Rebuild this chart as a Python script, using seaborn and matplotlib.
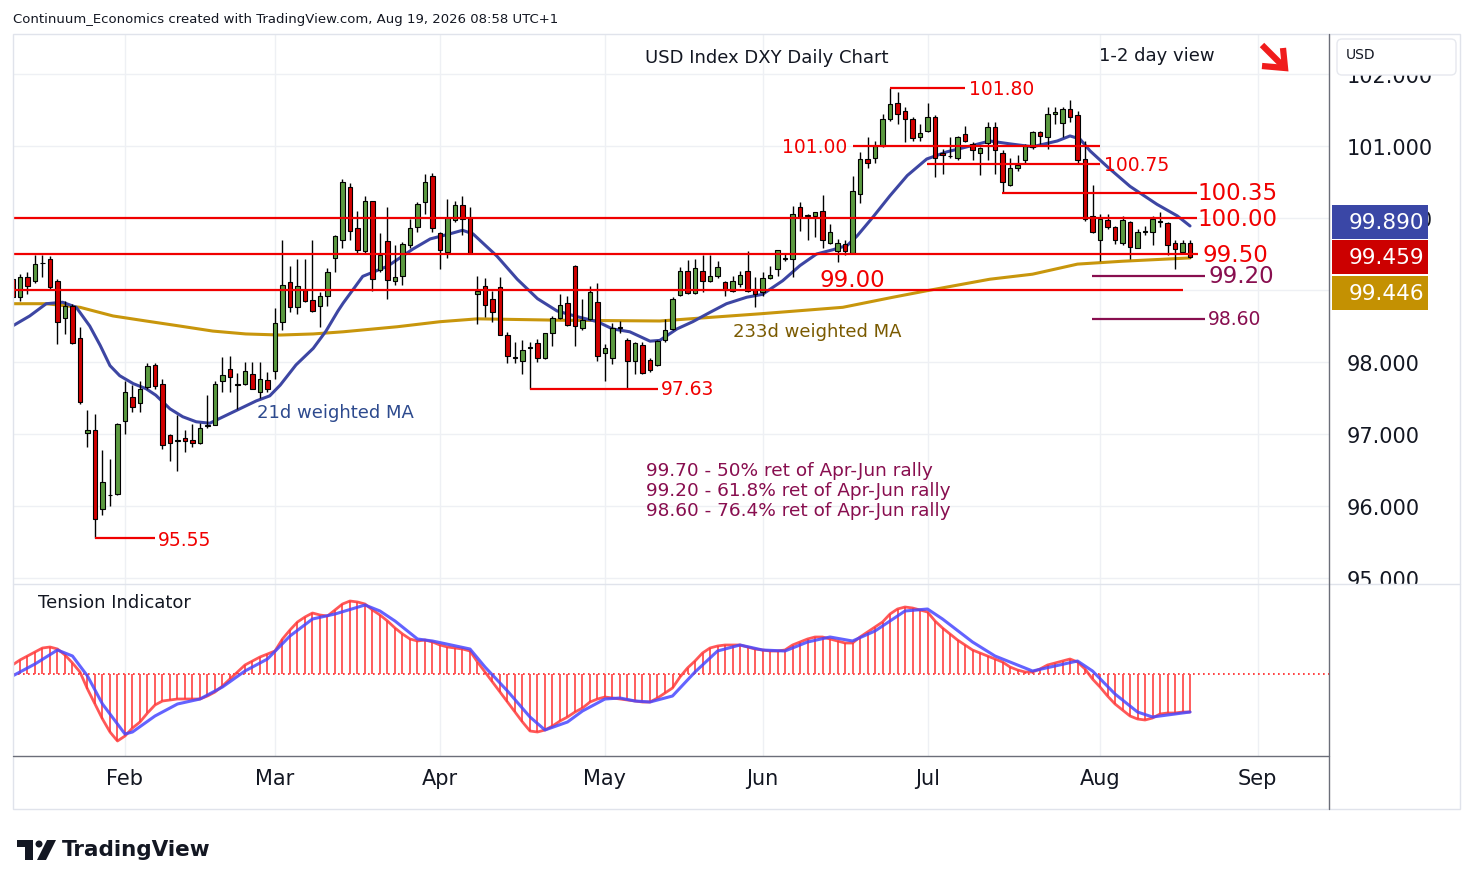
import numpy as np
import pandas as pd
import matplotlib
matplotlib.use("Agg")
import matplotlib.pyplot as plt
import matplotlib.patches as mpatches
import matplotlib.transforms as mtransforms
import seaborn as sns

sns.set_style("white")
plt.rcParams['font.family'] = ['DejaVu Sans']

# ---- data ----
dates = pd.bdate_range('2026-01-12', '2026-08-19')

opens = [99.16, 98.90, 99.18, 99.12, 99.37, 99.43, 99.13, 98.61, 98.78, 98.33,
         97.02, 97.05, 95.96, 96.15, 96.17, 97.18, 97.51, 97.43, 97.66, 97.96,
         97.69, 96.99, 96.91, 96.95, 96.92, 96.87, 97.11, 97.13, 97.73, 97.90,
         97.68, 97.69, 97.84, 97.58, 97.75, 97.87, 98.55, 99.11, 98.77, 99.00,
         98.86, 98.78, 98.92, 99.45, 99.69, 100.43, 99.86, 99.54, 100.23, 99.28,
         99.68, 99.13, 99.19, 99.63, 99.87, 100.22, 100.58, 99.79, 99.53, 99.97,
         100.18, 100.00, 98.94, 99.05, 98.88, 99.04, 98.38, 98.06, 98.01, 98.19,
         98.27, 98.05, 98.40, 98.61, 98.82, 99.33, 98.47, 98.60, 98.84, 98.12,
         98.05, 98.47, 98.30, 98.02, 98.24, 98.03, 97.96, 98.30, 98.46, 98.93,
         99.27, 98.96, 99.27, 99.13, 99.19, 99.11, 98.99, 99.08, 99.26, 99.01,
         98.97, 99.17, 99.29, 99.45, 99.43, 100.15, 100.03, 100.03, 100.10, 99.66,
         99.54, 99.64, 99.52, 100.33, 100.82, 100.83, 101.00, 101.38, 101.60, 101.49,
         101.37, 101.12, 101.21, 101.40, 100.91, 100.86, 100.83, 101.17, 101.03, 100.91,
         101.04, 101.27, 100.91, 100.46, 100.70, 100.80, 100.98, 101.19, 101.12, 101.44,
         101.32, 101.52, 101.43, 100.82, 100.03, 99.69, 99.97, 99.87, 99.65, 99.94,
         99.59, 99.81, 99.80, 99.95, 99.93, 99.66, 99.53, 99.66]
highs = [99.25, 99.22, 99.25, 99.48, 99.48, 99.47, 99.15, 98.85, 98.81, 98.48,
         97.34, 97.28, 96.78, 96.66, 97.15, 97.74, 97.68, 97.74, 97.99, 97.99,
         97.76, 97.00, 97.26, 97.05, 97.14, 97.16, 97.54, 97.74, 98.07, 98.08,
         97.85, 98.00, 98.00, 98.00, 97.86, 98.75, 99.69, 99.34, 99.43, 99.43,
         99.70, 98.97, 99.30, 99.76, 100.54, 100.49, 100.10, 100.31, 100.24, 99.79,
         100.15, 99.63, 99.67, 99.99, 100.22, 100.61, 100.63, 99.81, 100.26, 100.23,
         100.30, 100.15, 99.19, 99.17, 98.99, 99.18, 98.42, 98.28, 98.30, 98.28,
         98.32, 98.41, 98.64, 98.94, 98.92, 99.35, 98.88, 99.06, 99.10, 98.25,
         98.54, 98.57, 98.33, 98.28, 98.28, 98.05, 98.30, 98.60, 98.90, 99.32,
         99.42, 99.43, 99.48, 99.49, 99.41, 99.13, 99.20, 99.26, 99.54, 99.18,
         99.25, 99.34, 99.55, 99.52, 100.17, 100.22, 100.05, 100.08, 100.32, 99.92,
         99.71, 99.69, 100.59, 100.92, 101.12, 101.07, 101.44, 101.80, 101.75, 101.54,
         101.40, 101.31, 101.60, 101.43, 100.96, 101.12, 101.14, 101.28, 101.05, 100.99,
         101.34, 101.34, 100.94, 100.83, 100.87, 101.03, 101.21, 101.21, 101.54, 101.54,
         101.54, 101.64, 101.49, 101.07, 100.46, 100.06, 100.06, 99.89, 100.03, 99.96,
         99.85, 99.89, 100.03, 100.08, 99.95, 99.69, 99.69, 99.69]
lows = [98.69, 98.85, 98.94, 99.10, 99.18, 99.01, 98.25, 98.39, 98.25, 97.42,
        96.82, 95.55, 95.87, 96.00, 96.15, 97.00, 97.30, 97.30, 97.63, 97.63,
        96.79, 96.62, 96.49, 96.75, 96.82, 96.86, 97.08, 97.12, 97.58, 97.59,
        97.35, 97.68, 97.62, 97.50, 97.58, 97.76, 98.44, 98.69, 98.67, 98.83,
        98.69, 98.48, 98.78, 99.25, 99.59, 99.69, 99.50, 99.50, 98.98, 99.25,
        98.88, 99.07, 99.07, 99.59, 99.81, 100.06, 99.81, 99.29, 99.44, 99.95,
        99.76, 99.50, 98.53, 98.63, 98.55, 98.37, 97.99, 97.99, 97.83, 97.63,
        98.00, 98.04, 98.22, 98.60, 98.50, 98.22, 98.44, 98.59, 98.02, 97.73,
        97.97, 98.41, 97.63, 97.83, 97.83, 97.86, 97.95, 98.28, 98.44, 98.92,
        98.94, 98.94, 98.97, 99.11, 99.17, 98.92, 98.97, 99.04, 98.97, 98.76,
        98.92, 99.15, 99.20, 99.41, 99.18, 99.82, 99.69, 99.73, 99.59, 99.64,
        99.39, 99.49, 99.50, 100.21, 100.69, 100.77, 100.99, 101.35, 101.31, 101.05,
        101.07, 101.07, 101.19, 100.57, 100.61, 100.84, 100.80, 101.05, 100.80, 100.60,
        100.80, 100.61, 100.36, 100.45, 100.66, 100.77, 100.96, 101.03, 100.96, 101.31,
        101.12, 101.33, 100.77, 99.96, 99.79, 99.41, 99.85, 99.64, 99.63, 99.43,
        99.58, 99.76, 99.62, 99.87, 99.48, 99.29, 99.52, 99.45]
closes = [98.90, 99.18, 99.05, 99.36, 99.37, 99.04, 98.55, 98.78, 98.26, 97.45,
          97.05, 95.82, 96.33, 96.16, 97.14, 97.59, 97.37, 97.63, 97.94, 97.67,
          96.85, 96.88, 96.91, 96.91, 96.87, 97.09, 97.12, 97.69, 97.82, 97.79,
          97.69, 97.87, 97.63, 97.77, 97.63, 98.54, 99.07, 98.77, 99.05, 98.85,
          98.71, 98.92, 99.25, 99.75, 100.50, 99.82, 99.56, 100.23, 99.16, 99.49,
          99.14, 99.18, 99.64, 99.86, 100.19, 100.50, 99.86, 99.55, 100.00, 100.18,
          99.99, 99.51, 98.99, 98.79, 98.69, 98.38, 98.09, 98.06, 98.17, 98.21,
          98.06, 98.40, 98.61, 98.79, 98.51, 98.50, 98.59, 98.97, 98.08, 98.20,
          98.47, 98.48, 98.01, 98.26, 97.85, 97.89, 98.29, 98.45, 98.88, 99.27,
          98.96, 99.30, 99.13, 99.19, 99.32, 99.00, 99.13, 99.21, 98.98, 98.94,
          99.17, 99.21, 99.55, 99.43, 100.06, 100.01, 100.04, 100.08, 99.69, 99.80,
          99.66, 99.54, 100.38, 100.82, 100.76, 101.00, 101.38, 101.58, 101.44, 101.38,
          101.11, 101.18, 101.41, 100.84, 100.87, 100.86, 101.12, 101.07, 100.94, 100.97,
          101.27, 100.95, 100.50, 100.70, 100.74, 101.00, 101.19, 101.14, 101.44, 101.47,
          101.51, 101.40, 100.80, 99.99, 99.80, 99.99, 99.87, 99.69, 99.97, 99.60,
          99.80, 99.82, 99.99, 99.96, 99.63, 99.57, 99.65, 99.459]

# 21d weighted MA (bar position, value)
ma21_idx = [0, 2.3, 4.5, 6.7, 8.5, 10.3, 11.7, 13, 14.3, 16.1, 17.8, 19.1, 21, 22.7, 24.5, 26.3,
            28.1, 30.3, 32.5, 34.3, 35.7, 37.8, 40.1, 41.8, 43.4, 44.1, 46.7, 50, 53.4, 55.7,
            58.3, 60, 61.4, 64.6, 67.3, 70, 72.6, 75.3, 78, 80, 82.3, 85, 86.3, 88.6, 90.7,
            93, 95.2, 97.9, 100, 102.7, 105, 107.2, 109.4, 111.3, 112.6, 114.7, 117, 119.3,
            121.9, 124.6, 127.7, 130.3, 133, 136, 139.3, 141, 142.3, 143.7, 146, 149, 152.6,
            155.3, 157]
ma21_val = [98.50, 98.64, 98.81, 98.83, 98.76, 98.50, 98.23, 97.95, 97.81, 97.70, 97.63, 97.54,
            97.35, 97.24, 97.17, 97.15, 97.24, 97.35, 97.46, 97.53, 97.68, 97.96, 98.19, 98.43,
            98.71, 98.82, 99.19, 99.33, 99.57, 99.71, 99.78, 99.83, 99.78, 99.47, 99.15, 98.88,
            98.71, 98.63, 98.56, 98.46, 98.42, 98.29, 98.30, 98.46, 98.56, 98.69, 98.81, 98.90,
            98.94, 99.13, 99.34, 99.50, 99.56, 99.62, 99.75, 100.01, 100.31, 100.59, 100.82,
            100.92, 101.00, 101.07, 101.03, 100.99, 101.07, 101.14, 101.10, 100.93, 100.71,
            100.44, 100.19, 100.03, 99.890]

# 233d weighted MA (bar position, value)
ma233_idx = [0, 4.5, 9, 13.4, 17.8, 22.3, 26.7, 31.1, 35.7, 40.1, 44.1, 51.3, 57, 62, 73.4,
             86.3, 99.7, 110.7, 117.4, 121.9, 130.3, 136, 142, 148, 157]
ma233_val = [98.81, 98.81, 98.76, 98.64, 98.57, 98.50, 98.43, 98.39, 98.375, 98.39, 98.42,
             98.49, 98.56, 98.60, 98.58, 98.57, 98.67, 98.76, 98.90, 98.99, 99.15, 99.22,
             99.36, 99.40, 99.446]

# Tension indicator, one value per bar
tension = [9, 14, 18, 22, 26, 27, 25, 19, 11, 2,
           -15, -30, -45, -58, -67, -62, -54, -48, -39, -31,
           -27, -26, -25, -25, -25, -25, -22, -18, -12, -5,
           2, 9, 13, 17, 20, 23, 35, 44, 52, 57,
           61, 59, 58, 64, 70, 73, 72, 70, 64, 59,
           53, 46, 40, 35, 33, 34, 32, 29, 27, 26,
           25, 23, 12, 2, -8, -18, -28, -38, -48, -57,
           -58, -56, -52, -47, -43, -38, -34, -28, -25, -23,
           -24, -25, -26, -27, -28, -28, -24, -19, -14, -3,
           6, 13, 21, 26, 28, 29, 29, 29, 27, 25,
           24, 23, 23, 24, 29, 32, 35, 37, 37, 35,
           33, 31, 31, 37, 42, 47, 52, 60, 65, 67,
           66, 64, 62, 53, 46, 40, 34, 29, 24, 21,
           18, 15, 12, 7, 4, 2, 2, 5, 9, 11,
           13, 15, 12, 5, -5, -13, -22, -30, -36, -42,
           -45, -46, -44, -40, -39, -39, -38, -38]
signal_idx = [0, 3, 6, 8, 10, 12, 15, 16, 19, 22, 25, 28, 31, 34, 37, 40, 43, 47, 49, 51,
              54, 56, 61, 63, 66, 69, 71, 74, 76, 79, 81, 83, 85, 88, 91, 94, 97, 100, 103, 106,
              109, 112, 115, 119, 122, 124, 128, 131, 136, 139, 142, 144, 147, 150, 152, 157]
signal_val = [-2, 10, 24, 18, -2, -30, -60, -58, -42, -30, -25, -13, 3, 15, 38, 55, 60, 69, 63, 53,
              35, 33, 25, 7, -17, -43, -56, -48, -37, -25, -24, -27, -28, -22, 2, 23, 29, 24, 23, 32,
              37, 33, 43, 63, 65, 55, 32, 18, 3, 8, 13, 3, -20, -38, -43, -38]

month_names = ['Feb', 'Mar', 'Apr', 'May', 'Jun', 'Jul', 'Aug', 'Sep']

# ---- layout ----
W, H = 1474, 887
fig = plt.figure(figsize=(W / 100, H / 100), dpi=100)


def frame(l, t, r, b):
    return [l / W, 1 - b / H, (r - l) / W, (b - t) / H]


ax = fig.add_axes(frame(13, 35, 1329, 585))
axt = fig.add_axes(frame(13, 585, 1329, 757))
over = fig.add_axes([0, 0, 1, 1], zorder=10)

o = np.array(opens)
h = np.array(highs)
l = np.array(lows)
c = np.array(closes)
x = np.arange(len(dates))

all_days = pd.bdate_range('2026-01-12', '2026-09-30')
month_pos = [i for i in range(1, len(all_days)) if all_days[i].month != all_days[i - 1].month]

txt = '#131722'
red = '#f00000'
purple = '#880e4f'

for a in (ax, axt):
    a.set_xlim(0.07, 175.53)
    a.set_xticks(month_pos)
    a.grid(True, axis='x', color='#eef0f4', lw=1)
    a.set_axisbelow(True)
    for s in a.spines.values():
        s.set_visible(False)

ax.set_ylim(94.917, 102.556)
ax.set_yticks(np.arange(95, 103))
ax.set_yticklabels([f'{v:.3f}' for v in np.arange(95, 103)])
ax.yaxis.tick_right()
ax.grid(True, axis='y', color='#eef0f4', lw=1)
ax.tick_params(axis='y', length=0, pad=13, labelsize=15, labelcolor=txt)
ax.tick_params(axis='x', length=0, labelbottom=False)

# candles
up = c >= o
ax.vlines(x, l, h, color='black', lw=1, zorder=3)
ax.bar(x, np.maximum(np.abs(c - o), 0.004), bottom=np.minimum(o, c), width=0.64,
       color=np.where(up, '#5b9a40', '#d20000'), edgecolor='black', linewidth=0.8, zorder=4)

# moving averages
sns.lineplot(x=ma233_idx, y=ma233_val, ax=ax, color='#c8960c', linewidth=2.2, zorder=2)
sns.lineplot(x=ma21_idx, y=ma21_val, ax=ax, color='#3d46a3', linewidth=2.2, zorder=2)

# support / resistance levels
def level(y, x0, x1, color=red):
    ax.plot([x0, x1], [y, y], color=color, lw=1.6, zorder=5, solid_capstyle='butt')

level(100.00, 0, 157.9)
level(99.50, 0, 158.1)
level(99.00, 0, 156.1)
level(100.35, 131.9, 157.9)
level(100.75, 121.9, 145.0)
level(101.00, 112.1, 145.0)
level(101.80, 117.0, 127.0)
level(97.63, 69.0, 86.1)
level(95.55, 11.0, 19.0)
level(99.20, 143.9, 159.0, purple)
level(98.60, 143.9, 159.0, purple)

big = dict(fontsize=16.5, va='center', zorder=6)
ax.text(158.0, 100.35, '100.35', color=red, **big)
ax.text(158.0, 100.00, '100.00', color=red, **big)
ax.text(158.7, 99.50, '99.50', color=red, **big)
ax.text(159.5, 99.20, '99.20', color=purple, **big)
ax.text(112.0, 99.15, '99.00', color=red, ha='center', **big)
small = dict(fontsize=13.5, va='center', zorder=6)
ax.text(127.5, 101.80, '101.80', color=red, **small)
ax.text(111.3, 101.00, '101.00', color=red, ha='right', **small)
ax.text(145.5, 100.74, '100.75', color=red, **small)
ax.text(86.5, 97.63, '97.63', color=red, **small)
ax.text(19.4, 95.54, '95.55', color=red, **small)
ax.text(159.4, 98.61, '98.60', color=purple, **small)

ax.text(100.6, 102.236, 'USD Index DXY Daily Chart', fontsize=13, color=txt, ha='center', va='center')
ax.text(152.6, 102.264, '1-2 day view', fontsize=13, color=txt, ha='center', va='center')
ax.text(107.3, 98.43, '233d weighted MA', fontsize=13, color='#7a5a00', ha='center', va='center')
ax.text(43.0, 97.306, '21d weighted MA', fontsize=13, color='#2d4a8e', ha='center', va='center')
ret_lines = ['99.70 - 50% ret of Apr-Jun rally',
             '99.20 - 61.8% ret of Apr-Jun rally',
             '98.60 - 76.4% ret of Apr-Jun rally']
for k, s in enumerate(ret_lines):
    ax.text(84.5, 96.50 - k * 0.278, s, fontsize=13.3, color=purple, va='center')

# last value boxes on the price scale
blend = mtransforms.blended_transform_factory(ax.transAxes, ax.transData)
bh = 0.47
last = closes[-1]
boxes = [(last + 0.486, '%.3f' % ma21_val[-1], '#3a47a6'),
         (last, '%.3f' % last, '#cc0000'),
         (last - 0.50, '%.3f' % ma233_val[-1], '#c49102')]
for yc, s, col in boxes:
    ax.add_patch(mpatches.Rectangle((1.0023, yc - bh / 2), 0.0730, bh, transform=blend,
                                    clip_on=False, fc=col, ec='none', zorder=7))
    ax.text(1.0433, yc, s, transform=blend, color='white', fontsize=15.5,
            ha='center', va='center', zorder=8, clip_on=False)

# tension indicator
axt.set_ylim(-82, 90)
axt.set_yticks([])
axt.vlines(x, 0, tension, color='#ff5050', lw=1.3, zorder=2)
axt.axhline(0, color='#ff2020', lw=1.2, ls=(0, (1, 2)), zorder=1)
sns.lineplot(x=x, y=tension, ax=axt, color='#ff3a3a', linewidth=2.0, alpha=0.85, zorder=3)
sns.lineplot(x=signal_idx, y=signal_val, ax=axt, color='#4848ff', linewidth=2.2, alpha=0.85, zorder=4)
axt.set_xticklabels(month_names)
axt.tick_params(axis='x', length=0, pad=8.5, labelsize=15, labelcolor=txt)
axt.set_xlabel('')
axt.set_ylabel('')
ax.set_xlabel('')
ax.set_ylabel('')
axt.text(0.019, 0.895, 'Tension Indicator', transform=axt.transAxes, fontsize=13,
         color=txt, va='center')

# ---- chrome: frame, header, logo ----
over.set_xlim(0, W)
over.set_ylim(H, 0)
over.axis('off')
over.add_patch(mpatches.Rectangle((1330, 586), 129, 170, fc='white', ec='none'))
over.add_patch(mpatches.Rectangle((13, 35), 1447, 775, fill=False, ec='#e0e3eb', lw=1))
over.plot([13, 1460], [585, 585], color='#e0e3eb', lw=1)
over.plot([1329, 1329], [35, 810], color='#6b6e79', lw=1)
over.plot([13, 1329], [757, 757], color='#6b6e79', lw=1)
over.add_patch(mpatches.FancyBboxPatch((1337, 40), 119, 36, boxstyle='round,pad=0,rounding_size=5',
                                       fc='white', ec='#e6e8ee', lw=1))
over.text(1346, 55, 'USD', fontsize=10, color=txt, va='center')
over.text(13, 19, 'Continuum_Economics created with TradingView.com, Aug 19, 2026 08:58 UTC+1',
          fontsize=9.5, color=txt, va='center')

# trend arrow
arrow_red = '#f01c1c'
over.plot([1262, 1283], [46, 67], color=arrow_red, lw=4.5, solid_capstyle='butt')
over.plot([1283, 1285, 1262], [49, 69, 67], color=arrow_red, lw=4.5,
          solid_joinstyle='miter', solid_capstyle='butt')

# TradingView logo
over.add_patch(mpatches.Polygon([(17, 841), (33, 841), (33, 861), (25, 861), (25, 848), (17, 848)],
                                closed=True, fc=txt, ec='none'))
over.add_patch(mpatches.Circle((39, 845), 3.5, fc=txt, ec='none'))
over.add_patch(mpatches.Polygon([(47, 841), (56, 841), (46, 861), (37, 861)], closed=True, fc=txt, ec='none'))
over.text(62, 850, 'TradingView', fontsize=15.5, fontweight='bold', color=txt, va='center')

fig.savefig('out.png', dpi=100)
